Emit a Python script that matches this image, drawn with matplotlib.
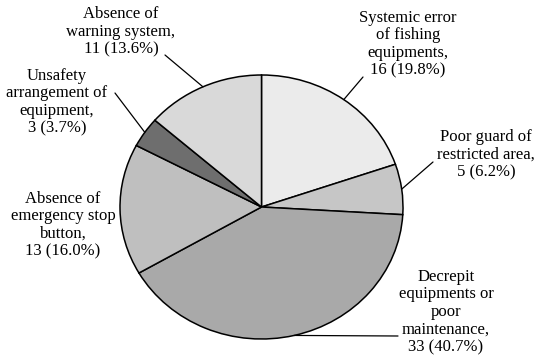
import numpy as np
import matplotlib
matplotlib.use('Agg')
import matplotlib.pyplot as plt

plt.rcParams['font.family'] = ['Liberation Serif', 'DejaVu Serif']

# accident causes, counted clockwise from 12 o'clock
causes = [
    "Systemic error\nof fishing\nequipments,",
    "Poor guard of\nrestricted area,",
    "Decrepit\nequipments or\npoor\nmaintenance,",
    "Absence of\nemergency stop\nbutton,",
    "Unsafety\narrangement of\nequipment,",
    "Absence of\nwarning system,",
]
counts = [16, 5, 33, 13, 3, 11]
shades = ["#ebebeb", "#c6c6c6", "#a9a9a9", "#bfbfbf", "#6e6e6e", "#d9d9d9"]

# label block centres (pixels) and where each leader leaves the text
label_xy = [(408, 44), (486, 155), (446, 312), (63, 225), (57, 102), (121, 32)]
leader_from = [(363, 77), (433, 162), (398, 336), None, (115, 93), (165, 55)]

W, H = 539, 359
fig = plt.figure(figsize=(W / 100, H / 100), dpi=100)

# pie is drawn as an ellipse, so give it its own stretched axes
left, right, top, bottom = 120, 403, 75, 339
ax = fig.add_axes([left / W, 1 - bottom / H, (right - left) / W, (bottom - top) / H])
wedges, _ = ax.pie(counts, startangle=90, counterclock=False, colors=shades,
                   wedgeprops=dict(edgecolor="black", linewidth=1.1))
ax.set_aspect("auto")
ax.set_xlim(-1, 1)
ax.set_ylim(-1, 1)
ax.axis("off")

total = sum(counts)
for w, name, n, (tx, ty), src in zip(wedges, causes, counts, label_xy, leader_from):
    text = f"{name}\n{n} ({100 * n / total:.1f}%)"
    fig.text(tx / W, 1 - ty / H, text, ha="center", va="center",
             multialignment="center", fontsize=12, linespacing=1.13)
    if src is None:
        continue
    mid = np.deg2rad((w.theta1 + w.theta2) / 2)
    ax.annotate("", xy=(np.cos(mid), np.sin(mid)), xycoords="data",
                xytext=(src[0] / W, 1 - src[1] / H), textcoords="figure fraction",
                arrowprops=dict(arrowstyle="-", color="black", lw=0.9,
                                shrinkA=0, shrinkB=0),
                annotation_clip=False)

fig.savefig("out.png", dpi=100)
